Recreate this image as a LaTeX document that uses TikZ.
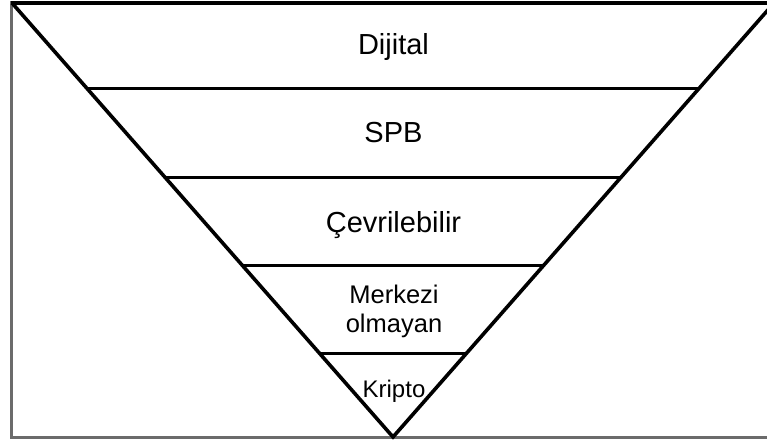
\documentclass[tikz,border=0pt]{standalone}
\usepackage{fontspec}
\setmainfont{Liberation Sans}
\begin{document}
\begin{tikzpicture}[x=1pt,y=-1pt,
  frame/.style={draw=black!58,line width=2.2pt},
  edge/.style={draw=black,line width=3.6pt,line cap=butt,line join=miter},
  lvl/.style={draw=black,line width=3.6pt},
  big/.style={font=\fontsize{29}{34}\selectfont,inner sep=0pt,anchor=base},
  mid/.style={font=\fontsize{25.5}{29}\selectfont,inner sep=0pt,anchor=base,align=center},
  small/.style={font=\fontsize{24}{28}\selectfont,inner sep=0pt,anchor=base}]
\useasboundingbox (0,0) rectangle (767,445);
\begin{scope}
\clip (0,0) rectangle (767,445);
\coordinate (tl) at (12,3);
\coordinate (tr) at (774,3);
\coordinate (ap) at (393,437);
% frame
\draw[frame] (11.5,1) -- (11.5,437.5) -- (780,437.5);
% triangle
\draw[edge] (11,3) -- (780,3);
\draw[edge] (tl) -- (ap) -- (tr);
% level lines
\foreach \yy/\nm in {88.5/a,177.5/b,265.5/c,353.5/d}{
  \path (tl) -- (ap) coordinate[pos={(\yy-3)/434}] (l\nm);
  \path (tr) -- (ap) coordinate[pos={(\yy-3)/434}] (r\nm);
  \draw[lvl] (l\nm) -- (r\nm);
}
\end{scope}
\node[big] (t1) at (393.5,54) {Dijital};
\node[big] (t2) at (393.5,142) {SPB};
\node[big] (t3) at (393.5,232) {Çevrilebilir};
\node[mid] (t4a) at (394,303) {Merkezi};
\node[mid] (t4b) at (394,332) {olmayan};
\node[small] (t5) at (394,397) {Kripto};
\end{tikzpicture}
\end{document}
